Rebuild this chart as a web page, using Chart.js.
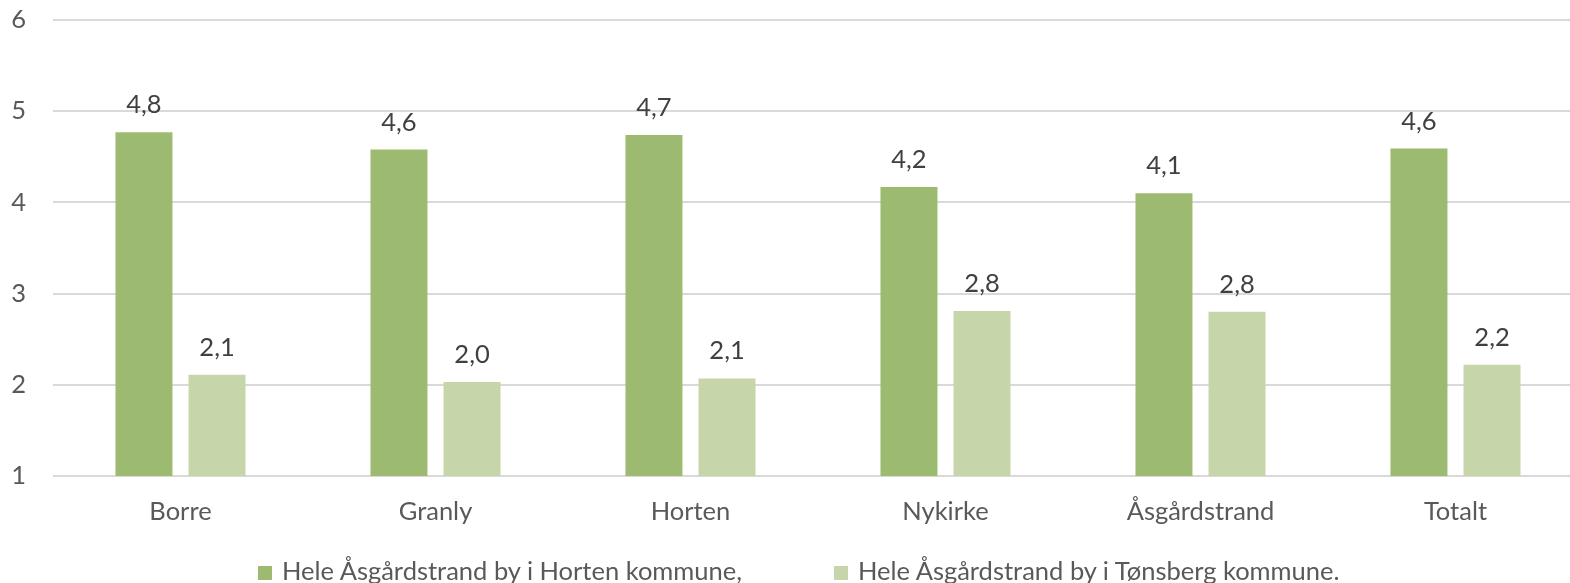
<!DOCTYPE html>
<html>
<head>
<meta charset="utf-8">
<script src="https://cdn.jsdelivr.net/npm/chart.js@4"></script>
<style>
  html, body { margin: 0; padding: 0; background: #fff; overflow: hidden; }
  #wrap { position: relative; width: 1584px; height: 583px; }
  #legend {
    position: absolute; left: 258px; top: 555px; white-space: nowrap;
    font-family: Lato, sans-serif; font-size: 25.5px; line-height: 30px; color: #595959;
  }
  #legend .item { display: inline-block; margin-right: 92px; }
  #legend .box { display: inline-block; width: 14px; height: 14px; margin-right: 10px; }
</style>
</head>
<body>
<div id="wrap">
  <canvas id="myChart" width="1584" height="583"></canvas>
  <div id="legend"></div>
</div>
<script>
// categories and series
var categories = ["Borre", "Granly", "Horten", "Nykirke", "Åsgårdstrand", "Totalt"];
var hortenValues = [4.77, 4.58, 4.74, 4.17, 4.10, 4.59];
var tonsbergValues = [2.11, 2.03, 2.07, 2.81, 2.80, 2.22];
var seriesNames = ["Hele Åsgårdstrand by i Horten kommune,", "Hele Åsgårdstrand by i Tønsberg kommune."];
var seriesColors = ["#9dbb70", "#c6d6aa"];
var yTicks = [1, 2, 3, 4, 5, 6];

var labelFont = { family: "Lato", size: 25.5 };

/* value labels above each bar, norwegian decimal comma */
var barLabels = {
  id: 'barLabels',
  afterDatasetsDraw: function(chart) {
    var ctx = chart.ctx;
    ctx.save();
    ctx.font = "25.5px Lato, sans-serif";
    ctx.fillStyle = "#404040";
    ctx.textAlign = "center";
    ctx.textBaseline = "alphabetic";
    chart.data.datasets.forEach(function(ds, i) {
      chart.getDatasetMeta(i).data.forEach(function(bar, j) {
        ctx.fillText(ds.data[j].toFixed(1).replace(".", ","), bar.x, bar.y - 19);
      });
    });
    ctx.restore();
  }
};

var ctx = document.getElementById('myChart').getContext('2d');
var chart = new Chart(ctx, {
  type: 'bar',
  data: {
    labels: categories,
    datasets: [{
      label: seriesNames[0],
      backgroundColor: seriesColors[0],
      data: hortenValues
    }, {
      label: seriesNames[1],
      backgroundColor: seriesColors[1],
      data: tonsbergValues
    }]
  },
  options: {
    responsive: false,
    animation: false,
    events: [],
    categoryPercentage: 0.573,
    barPercentage: 0.78,
    layout: { padding: { left: 11, right: 1, top: 20, bottom: 0 } },
    plugins: {
      legend: { display: false },
      tooltip: { enabled: false }
    },
    scales: {
      x: {
        grid: { display: false, drawTicks: false },
        border: { display: false },
        ticks: { color: "#595959", font: labelFont, padding: 20, maxRotation: 0 },
        afterFit: function(axis) {
          axis.height = 107;
          axis.paddingLeft = 0;
          axis.paddingRight = 0;
        }
      },
      y: {
        min: yTicks[0],
        max: yTicks[yTicks.length - 1],
        grid: { color: "#d9d9d9", lineWidth: 2, drawTicks: false },
        border: { display: false },
        ticks: { stepSize: 1, color: "#595959", font: labelFont, padding: 27 },
        afterFit: function(axis) {
          axis.width = 42;
          axis.paddingTop = 0;
          axis.paddingBottom = 0;
        }
      }
    }
  },
  plugins: [barLabels]
});

// legend built from the datasets
var legend = document.getElementById('legend');
chart.data.datasets.forEach(function(ds) {
  var item = document.createElement('div');
  item.className = 'item';
  item.innerHTML = "<span class='box' style='background:" + ds.backgroundColor + "'></span>" + ds.label;
  legend.appendChild(item);
});
</script>
</body>
</html>
